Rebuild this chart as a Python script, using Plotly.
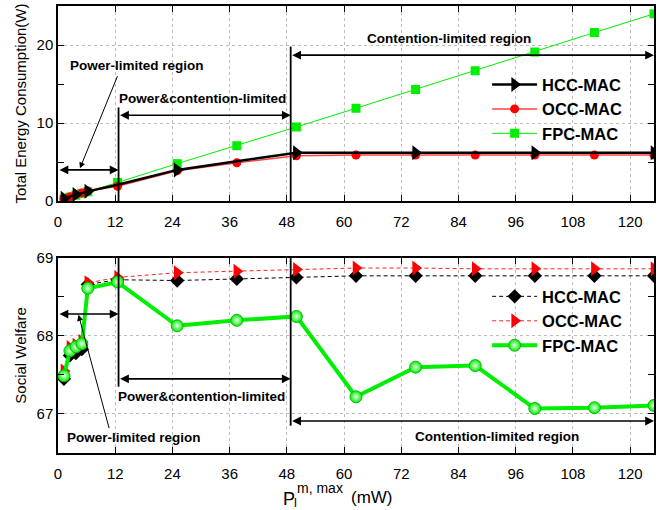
import plotly.graph_objects as go

# ---------------- data ----------------
power_mw = [1.25, 2.5, 3.75, 5, 6.25, 12.5, 25, 37.5, 50, 62.5, 75, 87.5, 100, 112.5, 125]

energy_hcc = [0.35, 0.6, 0.85, 1.05, 1.25, 2.1, 4.0, 5.1, 6.2, 6.2, 6.2, 6.2, 6.2, 6.2, 6.2]
energy_occ = [0.3, 0.55, 0.8, 1.05, 1.3, 1.9, 3.9, 4.9, 5.8, 5.9, 5.9, 5.9, 5.9, 5.9, 5.9]
energy_fpc = [0.25, 0.5, 0.75, 1.0, 1.2, 2.4, 4.8, 7.1, 9.5, 11.9, 14.3, 16.7, 19.1, 21.6, 24.0]

welfare_hcc = [67.45, 67.75, 67.78, 67.83, 68.66, 68.72, 68.71, 68.73, 68.75, 68.77, 68.77, 68.77, 68.77, 68.77, 68.77]
welfare_occ = [67.55, 67.85, 67.88, 67.93, 68.68, 68.75, 68.81, 68.83, 68.85, 68.87, 68.87, 68.86, 68.86, 68.86, 68.86]
welfare_fpc = [67.49, 67.81, 67.86, 67.90, 68.61, 68.69, 68.13, 68.20, 68.25, 67.22, 67.60, 67.62, 67.07, 67.08, 67.11]

x_ticks = [0, 12, 24, 36, 48, 60, 72, 84, 96, 108, 120]
energy_ticks = [0, 10, 20]
welfare_ticks = [67, 68, 69]

series_names = ["HCC-MAC", "OCC-MAC", "FPC-MAC"]

# region boundaries
b1, b2, xmax = 12.7, 48.8, 125

FONT = "Liberation Sans, Arial, sans-serif"
GREEN = "#00ee00"

fig = go.Figure()

# ---------- top: energy ----------
hcc_sel = list(range(0, len(power_mw), 2))
fig.add_trace(go.Scatter(x=power_mw, y=energy_fpc, name=series_names[2], mode="lines+markers",
                         line=dict(color=GREEN, width=1),
                         marker=dict(symbol="square", size=9, color=GREEN),
                         xaxis="x", yaxis="y", legend="legend", legendrank=3))
fig.add_trace(go.Scatter(x=power_mw, y=energy_occ, name=series_names[1], mode="lines+markers",
                         line=dict(color="#ff4444", width=1.5),
                         marker=dict(symbol="circle", size=9, color="#ff0000"),
                         xaxis="x", yaxis="y", legend="legend", legendrank=2))
fig.add_trace(go.Scatter(x=power_mw, y=energy_hcc, name=series_names[0], mode="lines+markers",
                         line=dict(color="black", width=2.5),
                         marker=dict(symbol="triangle-right", size=13, color="black"),
                         selectedpoints=hcc_sel,
                         unselected=dict(marker=dict(opacity=0)),
                         selected=dict(marker=dict(opacity=1)),
                         xaxis="x", yaxis="y", legend="legend", legendrank=1))

# ---------- bottom: welfare ----------
fig.add_trace(go.Scatter(x=power_mw, y=welfare_hcc, name=series_names[0], mode="lines+markers",
                         line=dict(color="black", width=1, dash="4px,3px"),
                         marker=dict(symbol="diamond", size=11, color="black"),
                         xaxis="x2", yaxis="y2", legend="legend2", legendrank=1))
fig.add_trace(go.Scatter(x=power_mw, y=welfare_occ, name=series_names[1], mode="lines+markers",
                         line=dict(color="#ff2222", width=1, dash="4px,3px"),
                         marker=dict(symbol="triangle-right", size=13, color="#ff0000"),
                         xaxis="x2", yaxis="y2", legend="legend2", legendrank=2))
fig.add_trace(go.Scatter(x=power_mw, y=welfare_fpc, name=series_names[2], mode="lines+markers",
                         line=dict(color=GREEN, width=4),
                         marker=dict(symbol="circle", size=12, color=GREEN,
                                     gradient=dict(type="radial", color="#eaffea"),
                                     line=dict(color="#00c000", width=1)),
                         xaxis="x2", yaxis="y2", legend="legend2", legendrank=3))

# ---------- axes ----------
axis_common = dict(showline=True, linecolor="black", linewidth=1.5, mirror="ticks",
                   ticks="inside", ticklen=6, tickwidth=1.2, tickcolor="black",
                   showgrid=True, gridcolor="#bdbdbd", griddash="dot", gridwidth=1,
                   zeroline=False, automargin=False,
                   tickfont=dict(family=FONT, size=15, color="black"))

fig.update_layout(
    width=670, height=510,
    margin=dict(l=58, r=16, t=6, b=57, autoexpand=False),
    paper_bgcolor="white", plot_bgcolor="white",
    font=dict(family=FONT, color="black"),
    xaxis=dict(domain=[0, 1], anchor="y", range=[0, 125], tickvals=x_ticks,
               ticklabelstandoff=6, **axis_common),
    yaxis=dict(domain=[0.5635, 1], anchor="x", range=[0, 25], tickvals=energy_ticks,
               minor=dict(dtick=5, tick0=0, ticks="inside", ticklen=6, tickcolor="black", showgrid=False),
               title=dict(text="Total Energy Consumption(W)", font=dict(family=FONT, size=15), standoff=6),
               **axis_common),
    xaxis2=dict(domain=[0, 1], anchor="y2", range=[0, 125], tickvals=x_ticks,
                ticklabelstandoff=6, **axis_common),
    yaxis2=dict(domain=[0, 0.4365], anchor="x2", range=[66.5, 69], tickvals=welfare_ticks,
                minor=dict(dtick=0.5, tick0=66.5, ticks="inside", ticklen=6, tickcolor="black", showgrid=False),
                title=dict(text="Social Welfare", font=dict(family=FONT, size=15), standoff=6),
                **axis_common),
    legend=dict(x=0.72, y=0.863, xanchor="left", yanchor="top", bgcolor="rgba(0,0,0,0)",
                font=dict(family=FONT, size=16.5, weight="bold", color="black"),
                itemwidth=45, traceorder="normal"),
    legend2=dict(x=0.72, y=0.389, xanchor="left", yanchor="top", bgcolor="rgba(0,0,0,0)",
                 font=dict(family=FONT, size=16.5, weight="bold", color="black"),
                 itemwidth=45, traceorder="normal"),
    showlegend=True,
)

# ---------- region annotations ----------
shapes = []
annots = []
ANN_FONT = dict(family=FONT, size=13.5, weight="bold", color="black")


def vline(xa, ya, x, y0, y1):
    shapes.append(dict(type="line", xref=xa, yref=ya, x0=x, x1=x, y0=y0, y1=y1,
                       line=dict(color="black", width=1.8)))


def darrow(xa, ya, x0, x1, y):
    annots.append(dict(xref=xa, yref=ya, axref=xa, ayref=ya, x=x1, y=y, ax=x0, ay=y,
                       text="", showarrow=True, arrowside="end+start", arrowhead=2,
                       arrowsize=1.1, arrowwidth=1.6, arrowcolor="black", standoff=0, startstandoff=0))


def label(xa, ya, x, y, text, xanchor="center"):
    annots.append(dict(xref=xa, yref=ya, x=x, y=y, text=text, showarrow=False,
                       xanchor=xanchor, yanchor="middle", font=ANN_FONT))


def pointer(xa, ya, x, y, ax, ay):
    annots.append(dict(xref=xa, yref=ya, axref=xa, ayref=ya, x=x, y=y, ax=ax, ay=ay,
                       text="", showarrow=True, arrowhead=2, arrowsize=1.2, arrowwidth=1,
                       arrowcolor="black", standoff=0))


# top plot
vline("x", "y", b1, 0, 12.0)
vline("x", "y", b2, 0, 19.8)
darrow("x", "y", 0, b1, 4.0)
darrow("x", "y", b1, b2, 11.0)
darrow("x", "y", b2, xmax, 18.7)
label("x", "y", 16.6, 17.4, "Power-limited region")
label("x", "y", 12.4, 13.2, "Power&contention-limited", "left")
label("x", "y", 82, 20.8, "Contention-limited region")
pointer("x", "y", 4.6, 4.2, 12.6, 16.2)

# bottom plot
vline("x2", "y2", b1, 67.35, 69)
vline("x2", "y2", b2, 66.85, 69)
darrow("x2", "y2", 0, b1, 68.28)
darrow("x2", "y2", b1, b2, 67.45)
darrow("x2", "y2", b2, xmax, 66.91)
label("x2", "y2", 15.9, 66.70, "Power-limited region")
label("x2", "y2", 12.2, 67.23, "Power&contention-limited", "left")
label("x2", "y2", 92.1, 66.71, "Contention-limited region")
pointer("x2", "y2", 4.3, 68.27, 10.8, 66.80)


# x-axis title with stacked sub/superscript
def px_x(p):
    return (p - 58) / 596.0


def px_y(p):
    return (453 - p) / 447.0


annots.append(dict(xref="paper", yref="paper", x=px_x(281), y=px_y(498.5), text="P", showarrow=False,
                   xanchor="left", yanchor="middle", font=dict(family=FONT, size=18, color="black")))
annots.append(dict(xref="paper", yref="paper", x=px_x(295), y=px_y(487.5), text="m, max", showarrow=False,
                   xanchor="left", yanchor="middle", font=dict(family=FONT, size=14, color="black")))
annots.append(dict(xref="paper", yref="paper", x=px_x(292), y=px_y(502.5), text="l", showarrow=False,
                   xanchor="left", yanchor="middle", font=dict(family=FONT, size=13, color="black")))
annots.append(dict(xref="paper", yref="paper", x=px_x(349), y=px_y(497.5), text="(mW)", showarrow=False,
                   xanchor="left", yanchor="middle", font=dict(family=FONT, size=17, color="black")))

fig.update_layout(shapes=shapes, annotations=annots)

fig.write_html("out.html")
